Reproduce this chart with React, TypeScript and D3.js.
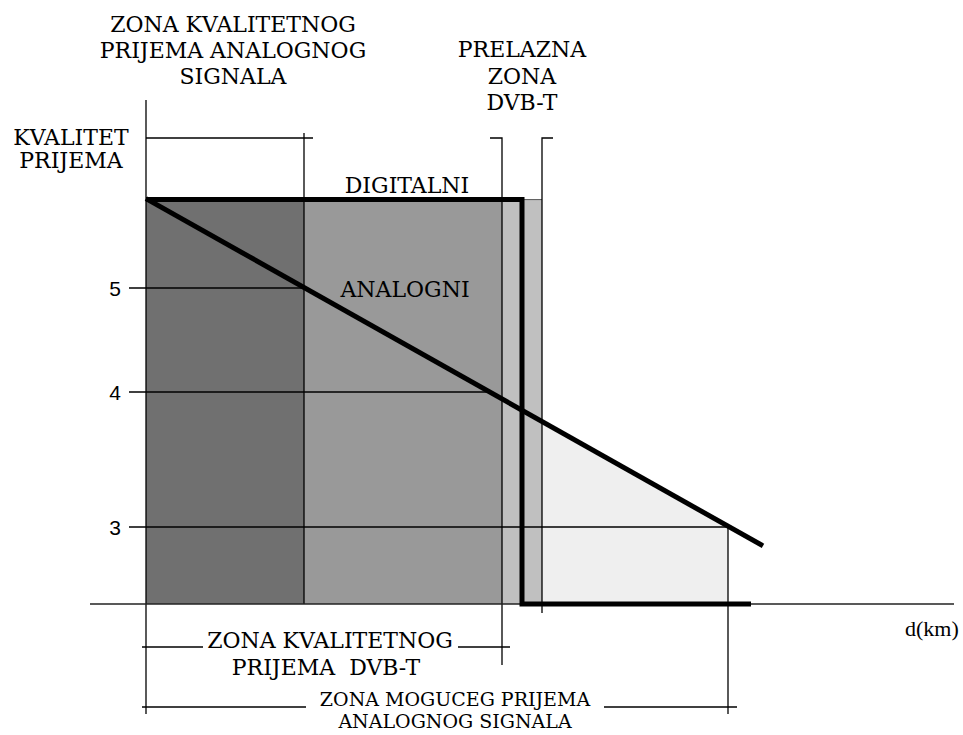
import React from 'react';
import * as d3 from 'd3';

// distance along the ground, km (arbitrary units)
const axisExtent = [-5.6, 80.8];
const bands = [
  [0, 15.8],
  [15.8, 35.6],
  [35.6, 39.6],
];
const bandColors = ['#707070', '#999999', '#c0c0c0'];
const analogQualityEnd = 15.8;
const dvbtQualityEnd = 35.6;
const transitionEnd = 39.6;
const analogPossibleEnd = 58.2;

// reception quality (grade)
const qualityTicks = [5, 4, 3];
const qualityBase = 2.43;
const qualityTop = 5.85;

// signal curves: [distance, quality]
const digitalSignal = [
  [0, 5.85],
  [37.6, 5.85],
  [37.6, 2.43],
  [60.5, 2.43],
];
const analogSignal = [
  [0, 5.86],
  [61.7, 2.86],
];

const topLeftTitle = ['ZONA KVALITETNOG', 'PRIJEMA ANALOGNOG', 'SIGNALA'];
const topRightTitle = ['PRELAZNA', 'ZONA', 'DVB-T'];
const yTitle = ['KVALITET', 'PRIJEMA'];
const bottomTitle1 = ['ZONA KVALITETNOG', 'PRIJEMA  DVB-T'];
const bottomTitle2 = ['ZONA MOGUCEG PRIJEMA', 'ANALOGNOG SIGNALA'];

const serif = '"DejaVu Serif", "Liberation Serif", serif';
const fs = 22;

export default function App() {
  const x = d3.scaleLinear().domain(axisExtent).range([90, 954]);
  const y = d3.scaleLinear().domain([3, 4, 5]).range([527, 392, 288]);

  const line = d3
    .line<number[]>()
    .x((d) => x(d[0]))
    .y((d) => y(d[1]));

  const ax0 = x(analogSignal[0][0]);
  const ay0 = y(analogSignal[0][1]);
  const ax1 = x(analogSignal[1][0]);
  const ay1 = y(analogSignal[1][1]);
  const analogYAt = (px: number) => ay0 + ((px - ax0) * (ay1 - ay0)) / (ax1 - ax0);
  const analogXAt = (py: number) => ax0 + ((py - ay0) * (ax1 - ax0)) / (ay1 - ay0);

  const yBase = y(qualityBase);
  const yTop = y(qualityTop);

  const tail = [
    [x(transitionEnd), analogYAt(x(transitionEnd))],
    [x(analogPossibleEnd), analogYAt(x(analogPossibleEnd))],
    [x(analogPossibleEnd), yBase],
    [x(transitionEnd), yBase],
  ];

  const thin = { stroke: '#000', strokeWidth: 1.3, fill: 'none' };
  const x0 = x(0);
  const xA = x(analogQualityEnd);
  const xD = x(dvbtQualityEnd);
  const xT = x(transitionEnd);
  const xP = x(analogPossibleEnd);

  return (
    <svg
      width={963}
      height={735}
      style={{ position: 'absolute', left: 0, top: 0, background: '#fff' }}
    >
      {/* zone fills */}
      {bands.map((b, i) => (
        <rect
          key={i}
          x={x(b[0])}
          y={yTop}
          width={x(b[1]) - x(b[0])}
          height={yBase - yTop}
          fill={bandColors[i]}
        />
      ))}
      <polygon points={tail.map((p) => p.join(',')).join(' ')} fill="#efefef" />
      <line x1={x(digitalSignal[1][0])} x2={xT} y1={yTop} y2={yTop} stroke="#555" strokeWidth={1} />

      {/* quality grid lines */}
      {qualityTicks.map((t) => (
        <g key={t}>
          <line x1={129} x2={Math.min(analogXAt(y(t)), xP)} y1={y(t)} y2={y(t)} {...thin} />
          <text
            x={121}
            y={y(t)}
            dy="0.36em"
            textAnchor="end"
            style={{ fontFamily: '"Liberation Sans", sans-serif' }}
            fontSize={21}
          >
            {t}
          </text>
        </g>
      ))}

      {/* zone borders and brackets */}
      <line x1={x0} x2={x0} y1={100} y2={714} {...thin} />
      <line x1={x0} x2={xA + 9} y1={138} y2={138} {...thin} />
      <line x1={xA} x2={xA} y1={133} y2={yBase} {...thin} />
      <path d={`M${xD - 12},138H${xD}V665`} {...thin} />
      <path d={`M${xT + 11},138H${xT}V613`} {...thin} />
      <line x1={xP} x2={xP} y1={y(3)} y2={714} {...thin} />

      <line x1={x0 - 4} x2={203} y1={647} y2={647} {...thin} />
      <line x1={458} x2={xD + 8} y1={647} y2={647} {...thin} />
      <line x1={x0 - 4} x2={306} y1={707} y2={707} {...thin} />
      <line x1={604} x2={xP + 9} y1={707} y2={707} {...thin} />

      {/* distance axis */}
      <line x1={x(axisExtent[0])} x2={x(axisExtent[1])} y1={yBase} y2={yBase} stroke="#222" strokeWidth={1.6} />

      {/* signals */}
      <path d={line(analogSignal) || ''} fill="none" stroke="#000" strokeWidth={5} />
      <path d={line(digitalSignal) || ''} fill="none" stroke="#000" strokeWidth={5} strokeLinejoin="miter" />

      {/* labels */}
      <g style={{ fontFamily: serif }} fontSize={fs} fill="#000" textAnchor="middle">
        {topLeftTitle.map((s, i) => (
          <text key={s} x={233} y={32 + i * 26}>{s}</text>
        ))}
        {topRightTitle.map((s, i) => (
          <text key={s} x={522} y={57 + i * 26.5}>{s}</text>
        ))}
        {yTitle.map((s, i) => (
          <text key={s} x={71} y={145 + i * 23}>{s}</text>
        ))}
        <text x={407} y={193}>DIGITALNI</text>
        <text x={405} y={297}>ANALOGNI</text>
        {bottomTitle1.map((s, i) => (
          <text key={s} x={330 - i * 4} y={648 + i * 27} style={{ whiteSpace: 'pre' }}>{s}</text>
        ))}
        {bottomTitle2.map((s, i) => (
          <text key={s} x={455} y={705.5 + i * 22.5} fontSize={19}>{s}</text>
        ))}
      </g>
      <text x={905} y={636} style={{ fontFamily: '"Liberation Serif", serif' }} fontSize={22}>
        d(km)
      </text>
    </svg>
  );
}
